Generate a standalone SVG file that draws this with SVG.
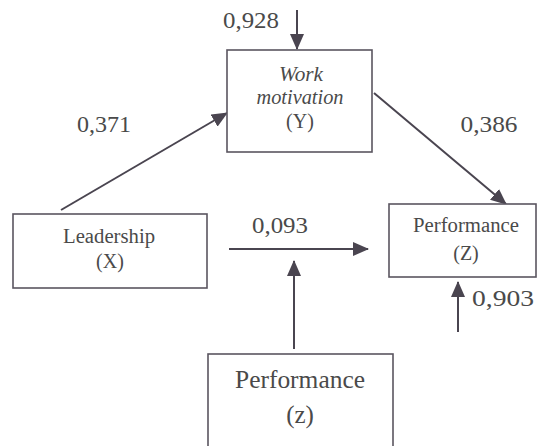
<svg xmlns="http://www.w3.org/2000/svg" width="538" height="446" viewBox="0 0 538 446">
<style>
.box{fill:#fff;stroke:#5a5560;stroke-width:1.6}
.t{font-family:'Liberation Serif','Times New Roman','DejaVu Serif',serif;fill:#4a4a4a;text-anchor:middle}
.c{stroke:#4a4550;stroke-width:2;fill:none}
</style>
<defs>
<marker id="ah" markerUnits="userSpaceOnUse" markerWidth="16" markerHeight="14" viewBox="0 0 16 14" refX="15" refY="7" orient="auto">
<path d="M0,0 L16,7 L0,14 Z" fill="#4a4550"/>
</marker>
</defs>
<rect width="538" height="446" fill="#fff"/>
<g id="connectors">
<line class="c" x1="297" y1="10" x2="297" y2="49" marker-end="url(#ah)"/>
<line class="c" x1="61" y1="210" x2="227" y2="113" marker-end="url(#ah)"/>
<line class="c" x1="374" y1="93" x2="506" y2="204" marker-end="url(#ah)"/>
<line class="c" x1="229" y1="249" x2="368" y2="249" marker-end="url(#ah)"/>
<line class="c" x1="294" y1="349" x2="294" y2="261" marker-end="url(#ah)"/>
<line class="c" x1="458" y1="332" x2="458" y2="282" marker-end="url(#ah)"/>
<text class="t" x="251" y="28" font-size="23" textLength="56" lengthAdjust="spacingAndGlyphs">0,928</text>
<text class="t" x="104" y="132" font-size="23" textLength="54" lengthAdjust="spacingAndGlyphs">0,371</text>
<text class="t" x="489" y="132" font-size="23" textLength="57" lengthAdjust="spacingAndGlyphs">0,386</text>
<text class="t" x="280" y="233" font-size="23" textLength="56" lengthAdjust="spacingAndGlyphs">0,093</text>
<text class="t" x="503" y="306" font-size="23" textLength="62" lengthAdjust="spacingAndGlyphs">0,903</text>
</g>
<g id="node-y">
<rect class="box" x="227" y="50" width="145" height="102"/>
<text class="t" x="301" y="81" font-size="20" font-style="italic" textLength="44" lengthAdjust="spacingAndGlyphs">Work</text>
<text class="t" x="300" y="104" font-size="20" font-style="italic" textLength="87" lengthAdjust="spacingAndGlyphs">motivation</text>
<text class="t" x="300" y="128" font-size="20">(Y)</text>
</g>
<g id="node-x">
<rect class="box" x="13" y="214" width="194" height="74"/>
<text class="t" x="109" y="243" font-size="20" textLength="92" lengthAdjust="spacingAndGlyphs">Leadership</text>
<text class="t" x="110" y="268" font-size="20">(X)</text>
</g>
<g id="node-z">
<rect class="box" x="389" y="204" width="147" height="73"/>
<text class="t" x="466" y="232" font-size="20" textLength="106" lengthAdjust="spacingAndGlyphs">Performance</text>
<text class="t" x="466" y="260" font-size="20">(Z)</text>
</g>
<g id="node-z2">
<rect class="box" x="208" y="354" width="185" height="95"/>
<text class="t" x="300" y="388" font-size="25" textLength="130" lengthAdjust="spacingAndGlyphs">Performance</text>
<text class="t" x="300" y="423" font-size="25">(z)</text>
</g>
</svg>
